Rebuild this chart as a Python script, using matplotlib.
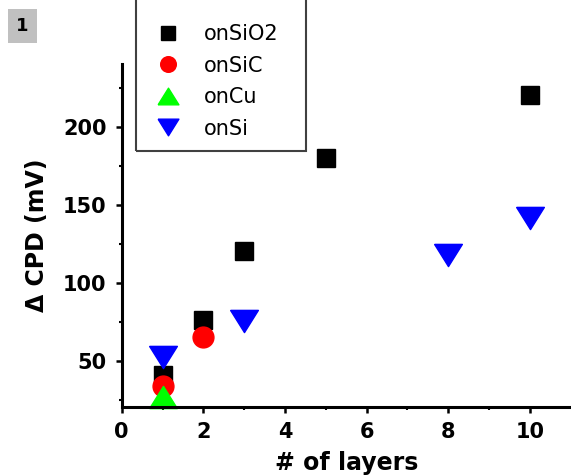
import numpy as np
import matplotlib
matplotlib.use("Agg")
import matplotlib.pyplot as plt
from matplotlib.patches import Rectangle

# data
x_sio2 = [1, 2, 3, 5, 10]
y_sio2 = [41, 76, 120.5, 180.5, 220.5]
x_sic = [1, 2]
y_sic = [34, 65.5]
x_cu = [1]
y_cu = [27]
x_si = [1, 3, 8, 10]
y_si = [52.5, 75.5, 118, 142]

xticks = [0, 2, 4, 6, 8, 10]
yticks = [50, 100, 150, 200]

plt.rcParams['font.family'] = ['DejaVu Sans']

W, H = 571, 475
fig = plt.figure(figsize=(W / 100, H / 100), dpi=100)
ax = fig.add_axes([121.7 / W, (H - 407) / H, (W - 121.7) / W, (407 - 64) / H])

# wide flat triangles like the original markers
tri_down = [(-1.25, 1), (1.25, 1), (0, -1), (-1.25, 1)]
tri_up = [(-1.25, -1), (1.25, -1), (0, 1), (-1.25, -1)]

ax.plot(x_sio2, y_sio2, ls='none', marker='s', ms=13, color='black', label='onSiO2', clip_on=False)
ax.plot(x_sic, y_sic, ls='none', marker='o', ms=15, color='#ff0000', label='onSiC', clip_on=False)
ax.plot(x_cu, y_cu, ls='none', marker=tri_up, ms=20, color='#00ff00', label='onCu', clip_on=False)
ax.plot(x_si, y_si, ls='none', marker=tri_down, ms=20, color='#0000ff', label='onSi', clip_on=False)

ax.set_xlim(0, 11.01)
ax.set_ylim(20.4, 240.7)
ax.set_xticks(xticks)
ax.set_xticks(np.arange(1, 11, 2), minor=True)
ax.set_yticks(yticks)
ax.set_yticks([25, 75, 125, 175, 225], minor=True)

for s in ['top', 'right']:
    ax.spines[s].set_visible(False)
for s in ['left', 'bottom']:
    ax.spines[s].set_linewidth(2.2)

ax.tick_params(which='major', direction='out', length=4, width=1.8, pad=7)
ax.tick_params(which='minor', direction='out', length=2.5, width=1.5)
for lab in ax.get_xticklabels() + ax.get_yticklabels():
    lab.set_fontsize(15)
    lab.set_fontweight('bold')

ax.set_xlabel('# of layers', fontsize=17, fontweight='bold', labelpad=6)
ax.set_ylabel('\u0394 CPD (mV)', fontsize=17, fontweight='bold', labelpad=10)

leg = ax.legend(loc='upper left', bbox_to_anchor=(147 / W, 1 - 16 / H), bbox_transform=fig.transFigure,
                frameon=False, fontsize=15, markerscale=0.75, handlelength=1.2,
                handletextpad=1.15, labelspacing=0.55, borderaxespad=0)
# legend frame, its top runs off the figure
fig.patches.append(Rectangle((136 / W, (H - 151) / H), 170 / W, 0.5, fill=False,
                             edgecolor='#404040', linewidth=1.5, transform=fig.transFigure))

fig.text(22.5 / W, 1 - 26 / H, '1', fontsize=13, fontweight='bold', ha='center', va='center',
         bbox=dict(boxstyle='square,pad=0.45', facecolor='#c0c0c0', edgecolor='none'))

fig.savefig('out.png', dpi=100)
